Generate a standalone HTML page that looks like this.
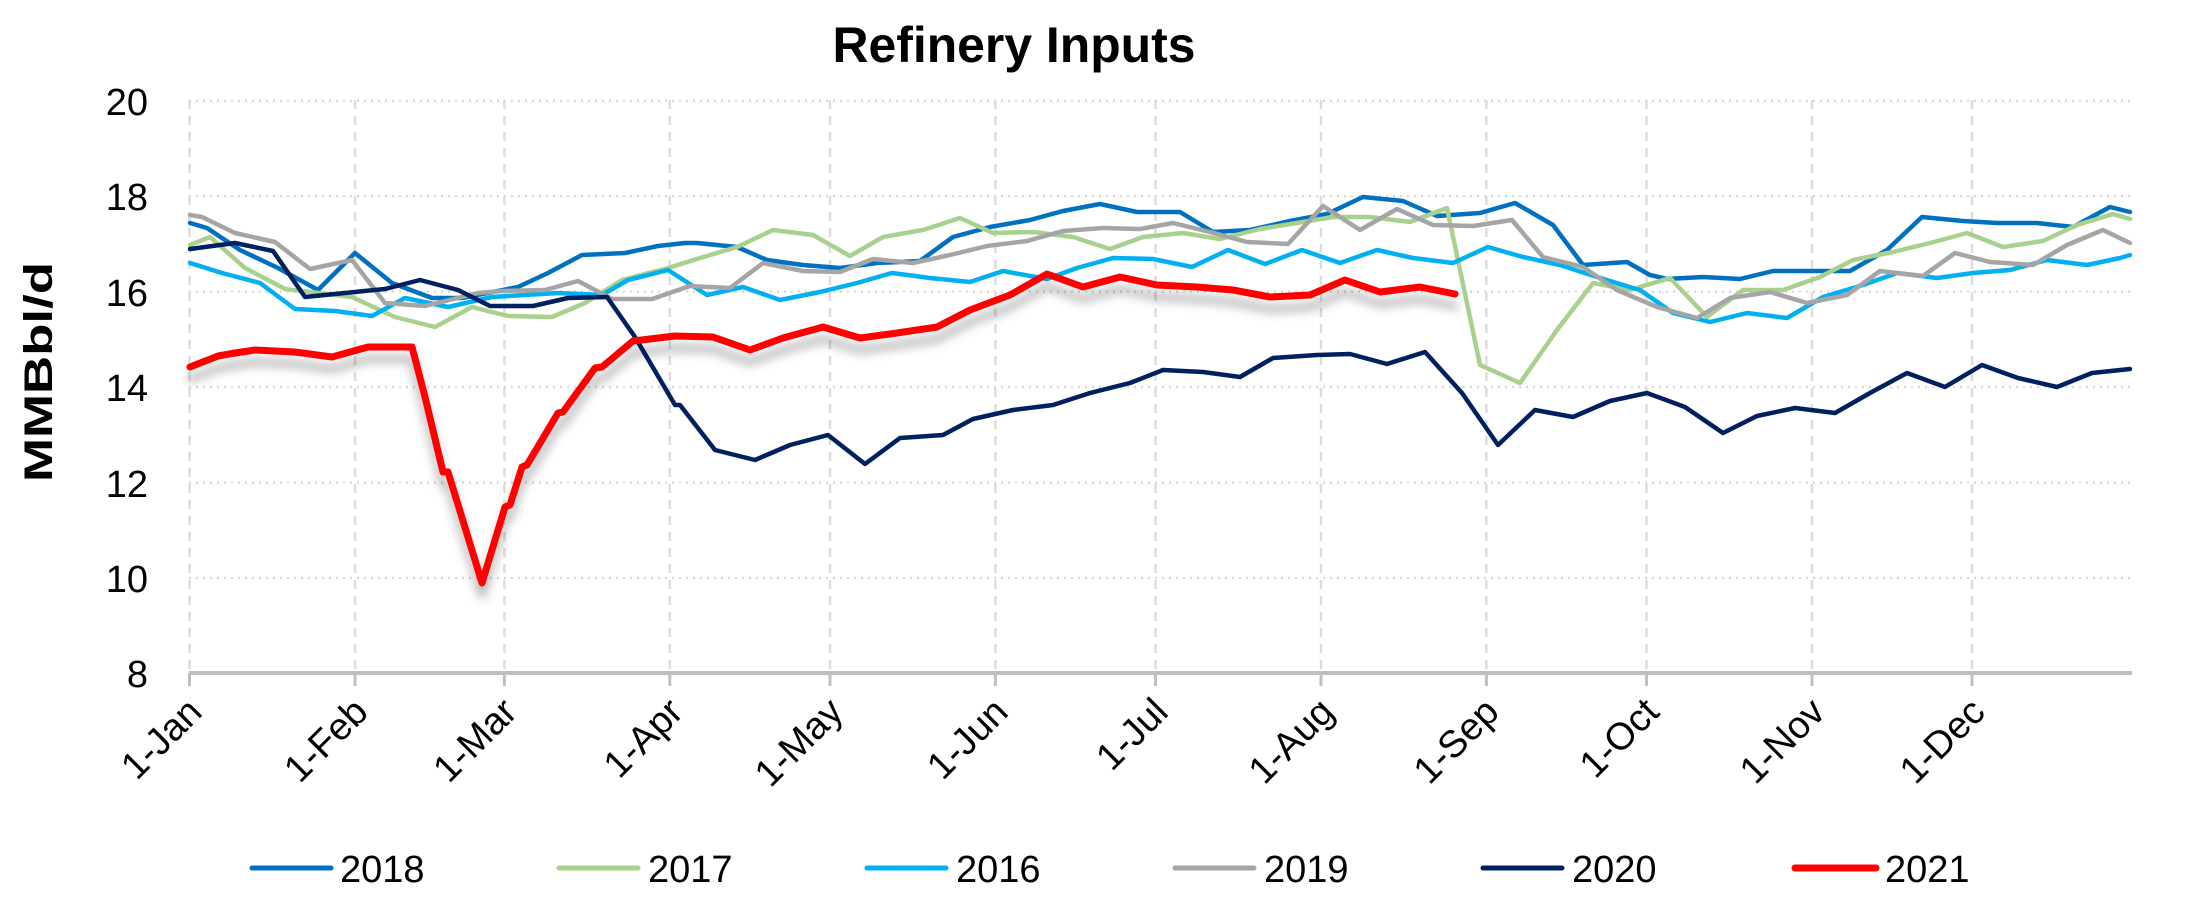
<!DOCTYPE html>
<html><head><meta charset="utf-8"><style>
html,body{margin:0;padding:0;background:#fff;}
svg{display:block;}
text{font-family:"Liberation Sans",sans-serif;fill:#000;}
</style></head><body>
<svg width="2193" height="900" viewBox="0 0 2193 900" xmlns="http://www.w3.org/2000/svg">
<defs>
<filter id="sh" x="-5%" y="-20%" width="110%" height="160%">
<feDropShadow dx="0" dy="12" stdDeviation="5" flood-color="#000" flood-opacity="0.3"/>
</filter>
</defs>
<rect width="2193" height="900" fill="#fff"/>
<text x="1014" y="62" font-size="50" font-weight="bold" text-anchor="middle" textLength="363" lengthAdjust="spacingAndGlyphs">Refinery Inputs</text>
<text transform="translate(52,372) rotate(-90)" font-size="40" font-weight="bold" text-anchor="middle" textLength="220" lengthAdjust="spacingAndGlyphs">MMBbl/d</text>
<g stroke="#D9D9D9" stroke-width="2.5" stroke-dasharray="2,5">
<line x1="189" y1="100.7" x2="2132" y2="100.7"/>
<line x1="189" y1="196.2" x2="2132" y2="196.2"/>
<line x1="189" y1="291.6" x2="2132" y2="291.6"/>
<line x1="189" y1="387" x2="2132" y2="387"/>
<line x1="189" y1="482.6" x2="2132" y2="482.6"/>
<line x1="189" y1="578" x2="2132" y2="578"/>
</g>
<g stroke="#DDDDDD" stroke-width="2.5" stroke-dasharray="9,7">
<line x1="189.5" y1="100" x2="189.5" y2="673"/>
<line x1="355" y1="100" x2="355" y2="673"/>
<line x1="504.4" y1="100" x2="504.4" y2="673"/>
<line x1="669.8" y1="100" x2="669.8" y2="673"/>
<line x1="830" y1="100" x2="830" y2="673"/>
<line x1="995.4" y1="100" x2="995.4" y2="673"/>
<line x1="1155.5" y1="100" x2="1155.5" y2="673"/>
<line x1="1321" y1="100" x2="1321" y2="673"/>
<line x1="1486.4" y1="100" x2="1486.4" y2="673"/>
<line x1="1646.5" y1="100" x2="1646.5" y2="673"/>
<line x1="1812" y1="100" x2="1812" y2="673"/>
<line x1="1972" y1="100" x2="1972" y2="673"/>
</g>
<g stroke="#BFBFBF" stroke-width="3">
<line x1="189" y1="673" x2="2132" y2="673" stroke-width="4"/>
<line x1="189.5" y1="673" x2="189.5" y2="686"/>
<line x1="355" y1="673" x2="355" y2="686"/>
<line x1="504.4" y1="673" x2="504.4" y2="686"/>
<line x1="669.8" y1="673" x2="669.8" y2="686"/>
<line x1="830" y1="673" x2="830" y2="686"/>
<line x1="995.4" y1="673" x2="995.4" y2="686"/>
<line x1="1155.5" y1="673" x2="1155.5" y2="686"/>
<line x1="1321" y1="673" x2="1321" y2="686"/>
<line x1="1486.4" y1="673" x2="1486.4" y2="686"/>
<line x1="1646.5" y1="673" x2="1646.5" y2="686"/>
<line x1="1812" y1="673" x2="1812" y2="686"/>
<line x1="1972" y1="673" x2="1972" y2="686"/>
</g>
<g font-size="38" text-anchor="end">
<text x="148" y="115">20</text>
<text x="148" y="210">18</text>
<text x="148" y="306">16</text>
<text x="148" y="401">14</text>
<text x="148" y="497">12</text>
<text x="148" y="592">10</text>
<text x="148" y="687">8</text>
</g>
<g font-size="38" text-anchor="end">
<text transform="translate(204,714) rotate(-45)">1-Jan</text>
<text transform="translate(370,714) rotate(-45)">1-Feb</text>
<text transform="translate(519,714) rotate(-45)">1-Mar</text>
<text transform="translate(685,714) rotate(-45)">1-Apr</text>
<text transform="translate(845,714) rotate(-45)">1-May</text>
<text transform="translate(1010,714) rotate(-45)">1-Jun</text>
<text transform="translate(1170,714) rotate(-45)">1-Jul</text>
<text transform="translate(1336,714) rotate(-45)">1-Aug</text>
<text transform="translate(1501,714) rotate(-45)">1-Sep</text>
<text transform="translate(1661,714) rotate(-45)">1-Oct</text>
<text transform="translate(1827,714) rotate(-45)">1-Nov</text>
<text transform="translate(1987,714) rotate(-45)">1-Dec</text>
</g>
<g fill="none" stroke-linejoin="round" stroke-linecap="round" stroke-width="4.5">
<polyline stroke="#0070C0" points="190,223 207,228 240,250 278,268 318,290 355,253 392,283 432,298 462,298 518,287 548,273 582,255 625,253 658,246 685,243 697,243 737,247 767,260 803,265 840,268 877,263 920,261 953,237 990,227 1030,220 1063,211 1100,204 1137,212 1180,212 1213,232 1250,230 1290,221 1327,214 1363,197 1403,201 1437,216 1480,213 1515,203 1553,225 1583,265 1627,262 1650,275 1667,279 1703,277 1740,279 1773,271 1850,271 1887,250 1922,217 1963,221 1997,223 2037,223 2073,227 2110,207 2130,212"/>
<polyline stroke="#A9D18E" points="190,245 210,237 245,268 285,289 352,297 395,317 435,327 472,307 508,316 552,317 585,303 622,280 668,268 700,258 737,247 773,230 813,235 850,256 883,237 923,230 960,218 993,233 1033,232 1073,237 1110,249 1143,237 1183,233 1220,239 1260,229 1297,223 1333,217 1370,217 1410,222 1447,208 1480,365 1520,383 1557,330 1593,283 1630,290 1670,278 1707,317 1743,290 1783,290 1820,277 1853,260 1893,252 1930,243 1967,233 2003,247 2043,241 2077,225 2113,214 2130,219"/>
<polyline stroke="#00B0F0" points="190,263 222,273 260,283 295,309 335,311 372,316 405,298 448,307 492,297 558,293 602,295 628,280 668,270 707,295 743,287 780,300 820,292 857,283 892,273 930,278 970,282 1003,271 1047,279 1077,268 1113,258 1153,259 1192,267 1228,250 1265,264 1302,250 1340,263 1377,250 1413,258 1453,263 1488,247 1523,257 1560,265 1597,277 1633,288 1640,290 1673,313 1710,322 1747,313 1787,318 1823,297 1863,285 1897,273 1937,278 1973,273 2010,270 2047,260 2087,265 2120,258 2130,255"/>
<polyline stroke="#A5A5A5" points="190,215 202,217 235,233 275,242 310,269 352,260 385,303 425,306 478,293 502,291 545,290 578,281 612,299 652,299 690,286 730,288 763,263 803,271 840,272 873,259 913,263 950,255 987,246 1027,241 1063,231 1103,228 1140,229 1173,223 1210,232 1247,242 1288,244 1323,206 1360,230 1397,209 1433,225 1473,226 1512,220 1543,257 1583,267 1617,290 1657,307 1697,318 1730,298 1770,292 1807,303 1847,295 1880,271 1923,276 1955,253 1990,262 2033,265 2067,245 2103,230 2130,243"/>
<polyline stroke="#002060" points="190,249 235,243 273,251 305,297 385,289 420,280 458,290 490,306 533,306 568,298 607,297 635,337 675,405 680,405 715,450 755,460 790,445 828,435 865,464 900,438 943,435 973,419 1013,410 1053,405 1090,393 1130,383 1163,370 1203,372 1240,377 1273,358 1317,355 1350,354 1387,364 1425,352 1462,393 1498,445 1535,410 1573,417 1610,401 1647,393 1685,407 1723,433 1757,416 1795,408 1835,413 1870,393 1907,373 1945,387 1982,365 2018,378 2057,387 2092,373 2130,369"/>
<polyline stroke="#FF0000" stroke-width="7" filter="url(#sh)" points="190,367 218,356 235,353 255,350 295,352 332,357 368,347 412,347 425,397 443,472 448,472 482,583 505,507 510,505 522,467 527,465 558,413 563,412 595,368 602,367 633,341 675,336 713,337 750,350 783,338 823,327 860,338 897,333 937,327 970,310 1010,295 1047,274 1083,287 1120,277 1157,285 1197,287 1233,290 1270,297 1310,295 1345,280 1380,292 1420,287 1455,294"/>
</g>
<g stroke-linecap="round">
<line x1="252" y1="868" x2="331" y2="868" stroke="#0070C0" stroke-width="5"/>
<line x1="559" y1="868" x2="638" y2="868" stroke="#A9D18E" stroke-width="5"/>
<line x1="867" y1="868" x2="946" y2="868" stroke="#00B0F0" stroke-width="5"/>
<line x1="1175" y1="868" x2="1254" y2="868" stroke="#A5A5A5" stroke-width="5"/>
<line x1="1483" y1="868" x2="1562" y2="868" stroke="#002060" stroke-width="5"/>
<line x1="1795" y1="868" x2="1876" y2="868" stroke="#FF0000" stroke-width="7"/>
</g>
<g font-size="38">
<text x="340" y="882">2018</text>
<text x="648" y="882">2017</text>
<text x="956" y="882">2016</text>
<text x="1264" y="882">2019</text>
<text x="1572" y="882">2020</text>
<text x="1885" y="882">2021</text>
</g>
</svg>
</body></html>
